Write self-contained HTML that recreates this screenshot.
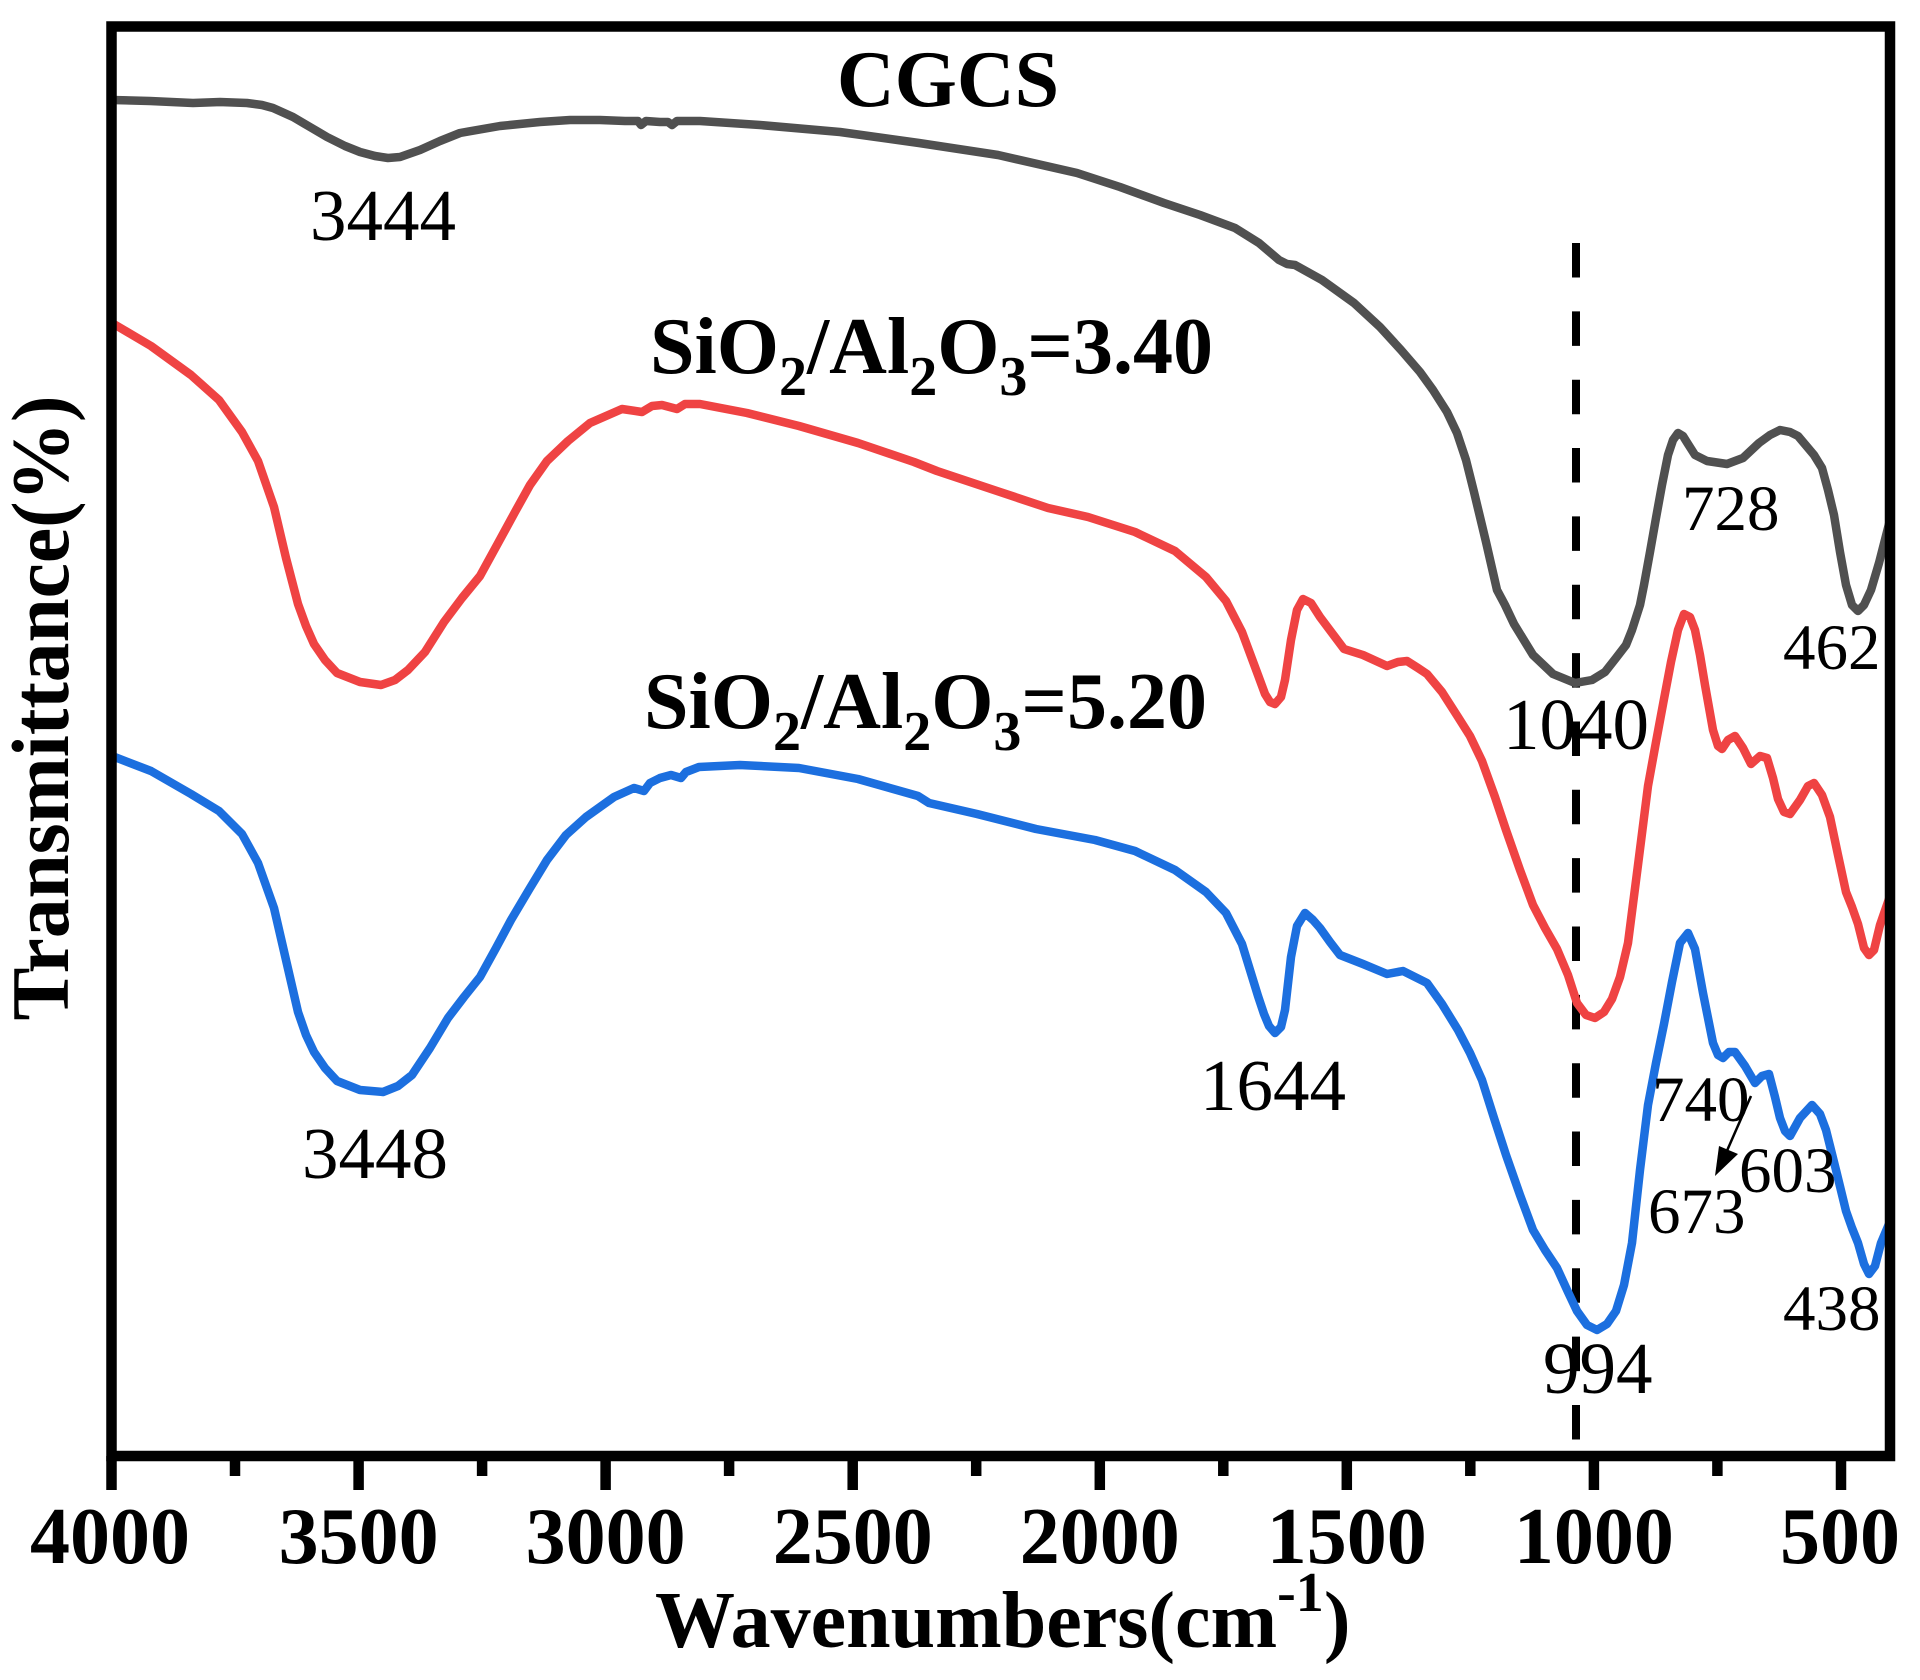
<!DOCTYPE html>
<html>
<head>
<meta charset="utf-8">
<style>
html,body{margin:0;padding:0;background:#fff;}
svg{display:block;}
text{font-family:"Liberation Serif","Times New Roman",serif;fill:#000;}
</style>
</head>
<body>
<svg width="1920" height="1680" viewBox="0 0 1920 1680" xmlns="http://www.w3.org/2000/svg">
<rect width="1920" height="1680" fill="#fff"/>

<!-- dashed reference line -->
<line x1="1576" y1="243" x2="1576" y2="1440" stroke="#000" stroke-width="8" stroke-dasharray="34.5 33.85"/>

<!-- gray CGCS -->
<polyline fill="none" stroke="#505050" stroke-width="8.5" stroke-linejoin="round" stroke-linecap="round" points="
112,100 150,101 193,103 220,102 247,103 262,105 273,108 293,117 310,127 327,137 345,146 360,152 375,156 388,158 400,157 420,150 440,141 460,133 500,126 540,122 570,120 600,120 625,121 638,121 641,125 646,121 660,122 668,122 672,125 677,121 700,121 760,125 840,132 919,143 998,155 1077,173 1120,187 1164,203 1200,215 1235,228 1259,243 1279,260 1287,264 1295,265 1322,280 1354,303 1380,327 1401,350 1420,372 1433,390 1447,412 1457,433 1466,460 1474,492 1486,542 1497,590 1505,605 1514,624 1533,655 1553,674 1575,683 1592,680 1605,672 1616,658 1626,645 1632,630 1640,605 1644,585 1650,552 1656,518 1662,485 1668,455 1673,440 1678,433 1683,436 1688,444 1695,455 1707,461 1727,464 1743,458 1759,443 1770,435 1780,430 1790,432 1798,436 1814,455 1822,468 1828,490 1834,515 1840,552 1846,585 1852,605 1858,611 1864,605 1871,590 1879,563 1889,524"/>

<!-- red 3.40 -->
<polyline fill="none" stroke="#ef4343" stroke-width="8.5" stroke-linejoin="round" stroke-linecap="round" points="
112,323 151,346 191,375 219,400 242,432 258,461 274,507 286,558 298,604 306,626 314,644 325,660 337,673 360,682 381,685 395,680 408,670 425,652 444,622 462,598 480,576 497,545 515,512 530,485 547,461 568,441 590,423 622,409 642,412 652,406 662,405 677,409 685,404 700,404 747,413 799,426 858,443 914,462 937,471 997,491 1048,508 1088,517 1135,532 1175,551 1206,577 1226,601 1242,632 1258,675 1265,694 1270,702 1275,704 1281,697 1285,680 1291,640 1297,610 1303,599 1311,603 1320,617 1332,633 1344,649 1363,655 1387,666 1398,662 1407,661 1418,668 1427,674 1442,692 1458,717 1470,736 1482,761 1495,797 1506,830 1520,870 1533,905 1545,928 1557,949 1568,975 1577,1003 1586,1015 1595,1018 1604,1012 1612,999 1620,977 1628,943 1638,865 1648,786 1656,742 1664,699 1671,662 1678,630 1684,614 1690,617 1695,630 1700,655 1705,685 1713,730 1718,746 1722,749 1728,740 1735,736 1743,748 1751,764 1760,756 1767,758 1773,778 1778,799 1784,812 1790,814 1800,800 1808,786 1814,783 1822,795 1830,817 1838,855 1846,892 1852,907 1858,924 1864,948 1869,955 1874,950 1880,925 1889,899"/>

<!-- blue 5.20 -->
<polyline fill="none" stroke="#1c6fdf" stroke-width="8.5" stroke-linejoin="round" stroke-linecap="round" points="
112,756 151,771 191,794 219,811 242,834 258,863 274,908 286,960 298,1012 306,1035 314,1052 325,1068 337,1081 360,1090 383,1092 398,1086 412,1075 430,1048 448,1018 464,997 480,977 496,948 511,920 530,888 547,860 566,835 586,817 614,797 634,788 644,791 650,783 660,778 671,775 681,778 686,772 699,767 740,765 799,768 858,779 918,796 929,803 977,814 1036,829 1095,840 1135,851 1175,870 1206,892 1226,913 1242,944 1258,996 1264,1014 1269,1026 1275,1033 1281,1027 1285,1010 1291,957 1297,926 1305,913 1313,920 1320,928 1330,942 1340,955 1363,964 1387,974 1403,971 1415,977 1427,983 1442,1004 1458,1030 1470,1053 1482,1080 1494,1118 1506,1155 1520,1195 1533,1230 1545,1250 1557,1268 1568,1292 1577,1311 1587,1325 1597,1330 1607,1324 1616,1311 1624,1285 1632,1243 1640,1170 1648,1105 1656,1063 1664,1024 1672,982 1680,943 1688,933 1695,949 1703,993 1713,1043 1718,1055 1723,1058 1729,1052 1735,1052 1745,1066 1755,1083 1762,1076 1769,1074 1775,1097 1780,1118 1785,1131 1790,1136 1800,1118 1812,1105 1820,1114 1826,1130 1836,1170 1846,1211 1852,1228 1858,1243 1864,1264 1869,1274 1875,1266 1881,1243 1889,1224"/>

<!-- frame -->
<rect x="111.5" y="26.5" width="1778.5" height="1429.5" fill="none" stroke="#000" stroke-width="10.5"/>

<!-- ticks -->
<g stroke="#000" stroke-width="10.5">
<line x1="111.5" y1="1456" x2="111.5" y2="1490"/>
<line x1="235" y1="1456" x2="235" y2="1476"/>
<line x1="358.6" y1="1456" x2="358.6" y2="1490"/>
<line x1="482.1" y1="1456" x2="482.1" y2="1476"/>
<line x1="605.6" y1="1456" x2="605.6" y2="1490"/>
<line x1="729.1" y1="1456" x2="729.1" y2="1476"/>
<line x1="852.7" y1="1456" x2="852.7" y2="1490"/>
<line x1="976.2" y1="1456" x2="976.2" y2="1476"/>
<line x1="1099.8" y1="1456" x2="1099.8" y2="1490"/>
<line x1="1223.3" y1="1456" x2="1223.3" y2="1476"/>
<line x1="1346.8" y1="1456" x2="1346.8" y2="1490"/>
<line x1="1470.3" y1="1456" x2="1470.3" y2="1476"/>
<line x1="1593.9" y1="1456" x2="1593.9" y2="1490"/>
<line x1="1717.4" y1="1456" x2="1717.4" y2="1476"/>
<line x1="1841" y1="1456" x2="1841" y2="1490"/>
</g>

<!-- tick labels -->
<g font-size="80" font-weight="bold" text-anchor="middle">
<text x="110" y="1563">4000</text>
<text x="358.6" y="1563">3500</text>
<text x="605.6" y="1563">3000</text>
<text x="852.7" y="1563">2500</text>
<text x="1099.8" y="1563">2000</text>
<text x="1346.8" y="1563">1500</text>
<text x="1593.9" y="1563">1000</text>
<text x="1840" y="1563">500</text>
</g>

<!-- axis titles -->
<text x="655" y="1647" font-size="80" font-weight="bold">Wavenumbers(cm<tspan font-size="56" dy="-36">-1</tspan><tspan dy="36">)</tspan></text>
<text transform="translate(68,708) rotate(-90)" font-size="82" font-weight="bold" text-anchor="middle" textLength="625" lengthAdjust="spacingAndGlyphs">Transmittance(%)</text>

<!-- series labels -->
<text x="948" y="106" font-size="80" font-weight="bold" text-anchor="middle">CGCS</text>
<text x="650" y="373" font-size="80" font-weight="bold">SiO<tspan font-size="56" dy="22">2</tspan><tspan dy="-22">/Al</tspan><tspan font-size="56" dy="22">2</tspan><tspan dy="-22">O</tspan><tspan font-size="56" dy="22">3</tspan><tspan dy="-22">=3.40</tspan></text>
<text x="644" y="728" font-size="80" font-weight="bold">SiO<tspan font-size="56" dy="22">2</tspan><tspan dy="-22">/Al</tspan><tspan font-size="56" dy="22">2</tspan><tspan dy="-22">O</tspan><tspan font-size="56" dy="22">3</tspan><tspan dy="-22">=5.20</tspan></text>

<!-- peak annotations -->
<g font-size="73">
<text x="310" y="240">3444</text>
<text x="302" y="1178">3448</text>
<text x="1200" y="1110">1644</text>
<text x="1503" y="749">1040</text>
<text x="1543" y="1393">994</text>
</g>
<g font-size="65">
<text x="1682" y="530">728</text>
<text x="1783" y="669">462</text>
<text x="1652" y="1121">740</text>
<text x="1739" y="1192">603</text>
<text x="1648" y="1233">673</text>
<text x="1783" y="1330">438</text>
</g>

<!-- arrow -->
<line x1="1751" y1="1096" x2="1726" y2="1153" stroke="#000" stroke-width="2.5"/>
<polygon points="1715,1176 1719,1146 1738,1154" fill="#000"/>
</svg>
</body>
</html>
